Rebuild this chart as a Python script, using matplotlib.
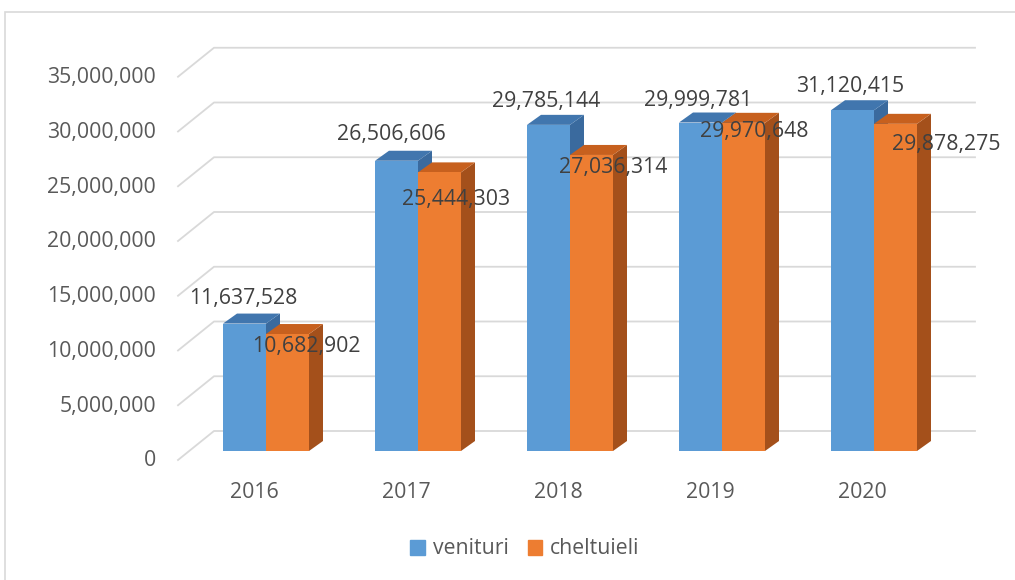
import matplotlib.pyplot as plt
from matplotlib.patches import Polygon, Rectangle

years = ['2016', '2017', '2018', '2019', '2020']
venituri = [11637528, 26506606, 29785144, 29999781, 31120415]
cheltuieli = [10682902, 25444303, 27036314, 29970648, 29878275]
ticks = [0, 5000000, 10000000, 15000000, 20000000, 25000000, 30000000, 35000000]

# pixel layout of the fake 3D view
PX_CAT = 152.0            # pixels between categories
PX_VAL = 54.75 / 5e6      # pixels per unit of value
X0_PX, Y0_PX = 266, 451   # centre of first bar pair / front base line
W, H = 1015, 580

def dx(px):
    return px / PX_CAT

def dy(px):
    return px / PX_VAL

def xpx(px):
    return (px - X0_PX) / PX_CAT

blue, blue_top, blue_side = '#5B9BD5', '#4176AE', '#3A6A9E'
orange, orange_top, orange_side = '#ED7D31', '#C7601E', '#A4501B'
grid_col = '#D9D9D9'
txt = '#595959'
font = 'Open Sans'
fs = 15.3

# per label offsets (pixels) from the top centre of the front face
ven_off = [(-1, 25), (-5, 26), (-2, 23), (-2, 22), (-2, 24)]
chel_off = [(19, -12), (17, -27), (22, -13), (11, -9), (51, -21)]

fig = plt.figure(figsize=(W / 100, H / 100), dpi=100)
ax = fig.add_axes([0, 0, 1, 1])
ax.set_xlim(xpx(0), xpx(W))
ax.set_ylim(-dy(H - Y0_PX), dy(Y0_PX))
ax.axis('off')

fig.patches.append(Rectangle((5 / W, -0.1), 1.1, 1.1 - 12 / H, transform=fig.transFigure,
                             fill=False, edgecolor=grid_col, lw=1.2))

# gridlines: side wall diagonal + back wall
for t in ticks:
    ax.plot([xpx(178), xpx(214), xpx(975)], [t - dy(9), t + dy(20), t + dy(20)],
            color=grid_col, lw=1.3, zorder=1)
    ax.text(xpx(156), t - dy(10), f'{t:,}', ha='right', va='center',
            fontsize=fs, color=txt, family=font)

bw = dx(43)
ddx, ddy = dx(14), dy(10)
xs = list(range(len(years)))

def box(x_left, h, top, side):
    xl, xr = x_left, x_left + bw
    ax.add_patch(Polygon([(xr, 0), (xr + ddx, ddy), (xr + ddx, h + ddy), (xr, h)],
                         closed=True, facecolor=side, edgecolor='none', zorder=2))
    ax.add_patch(Polygon([(xl, h), (xr, h), (xr + ddx, h + ddy), (xl + ddx, h + ddy)],
                         closed=True, facecolor=top, edgecolor='none', zorder=2))

for i in xs:
    box(i - bw, venituri[i], blue_top, blue_side)
    ax.bar(i - bw / 2, venituri[i], width=bw, color=blue, zorder=2)
    box(i, cheltuieli[i], orange_top, orange_side)
    ax.bar(i + bw / 2, cheltuieli[i], width=bw, color=orange, zorder=2)

for i in xs:
    ox, oy = ven_off[i]
    ax.text(i - bw / 2 + dx(ox), venituri[i] + dy(oy), f'{venituri[i]:,}',
            ha='center', va='center', fontsize=fs, color='#404040', family=font, zorder=5)
    ox, oy = chel_off[i]
    ax.text(i + bw / 2 + dx(ox), cheltuieli[i] + dy(oy), f'{cheltuieli[i]:,}',
            ha='center', va='center', fontsize=fs, color='#404040', family=font, zorder=5)
    ax.text(i + dx(-11.5), -dy(41), years[i], ha='center', va='center',
            fontsize=fs, color=txt, family=font)

handles = [Rectangle((0, 0), 1, 1, color=blue), Rectangle((0, 0), 1, 1, color=orange)]
fig.legend(handles, ['venituri', 'cheltuieli'], loc='center', bbox_to_anchor=(0.517, 1 - 549 / H),
           ncol=2, frameon=False, handlelength=0.7, handleheight=0.7, handletextpad=0.35,
           columnspacing=0.9, prop={'family': font, 'size': fs}, labelcolor=txt)

fig.savefig('out.png', dpi=100)
